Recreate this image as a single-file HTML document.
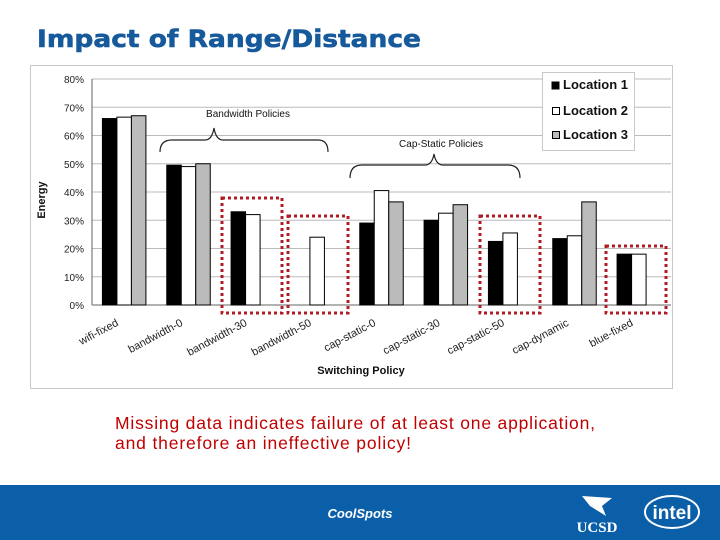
<!DOCTYPE html>
<html><head><meta charset="utf-8"><style>
body{margin:0;width:720px;height:540px;overflow:hidden;background:#fff;font-family:"Liberation Sans",sans-serif}
svg{position:absolute;left:0;top:0}
</style></head><body>
<svg id="s" width="720" height="540" xmlns="http://www.w3.org/2000/svg">
<text x="37" y="47" font-family="DejaVu Sans" font-weight="bold" font-size="24" fill="#175a9c" stroke="#175a9c" stroke-width="0.6" textLength="384" lengthAdjust="spacingAndGlyphs">Impact of Range/Distance</text>
<rect x="30.5" y="65.5" width="642" height="323" fill="#fff" stroke="#c8c8c8"/>
<g id="grid"></g>
<g id="bars"></g>
<g id="axes"></g>
<text x="45" y="200" transform="rotate(-90 45 200)" text-anchor="middle" font-size="11" font-weight="bold" fill="#111">Energy</text>
<text x="361" y="374" text-anchor="middle" font-size="11" font-weight="bold" fill="#111">Switching Policy</text>
<text x="248" y="117" text-anchor="middle" font-size="10" fill="#111">Bandwidth Policies</text>
<path d="M160,152 Q160,140 172,140 L205,140 Q212,140 214,128 Q216,140 223,140 L318,140 Q328,140 328,152" fill="none" stroke="#222" stroke-width="1.2"/>
<text x="441" y="147" text-anchor="middle" font-size="10" fill="#111">Cap-Static Policies</text>
<path d="M350,178 Q350,165 362,165 L425,165 Q432,165 434,154 Q436,165 443,165 L508,165 Q520,165 520,178" fill="none" stroke="#222" stroke-width="1.2"/>
<g>
<rect x="542.5" y="72.5" width="92" height="78" fill="#fff" stroke="#c8c8c8"/>
<rect x="552" y="82" width="7" height="7" fill="#000" stroke="#000"/><text x="563" y="89" font-size="13" font-weight="bold" fill="#111">Location 1</text>
<rect x="552.5" y="107.5" width="7" height="7" fill="#fff" stroke="#000"/><text x="563" y="115" font-size="13" font-weight="bold" fill="#111">Location 2</text>
<rect x="552.5" y="131.5" width="7" height="7" fill="#bbb" stroke="#000"/><text x="563" y="139" font-size="13" font-weight="bold" fill="#111">Location 3</text>
</g>
<g fill="none" stroke="#b01c24" stroke-width="3" stroke-dasharray="3,3">
<rect x="222" y="198" width="60" height="115"/>
<rect x="288" y="216" width="60" height="97"/>
<rect x="480" y="216" width="60" height="97"/>
<rect x="606" y="246" width="60" height="67"/>
</g>
<text x="115" y="429" font-size="17.5" fill="#c00000" textLength="480" lengthAdjust="spacing">Missing data indicates failure of at least one application,</text>
<text x="115" y="449" font-size="17.5" fill="#c00000" textLength="296" lengthAdjust="spacing">and therefore an ineffective policy!</text>
<rect x="0" y="485" width="720" height="55" fill="#0a5fa8"/>
<text x="360" y="518" text-anchor="middle" font-size="13" font-weight="bold" font-style="italic" fill="#fff">CoolSpots</text>
<text x="597" y="532" text-anchor="middle" font-family="Liberation Serif" font-size="15" font-weight="bold" fill="#fff">UCSD</text>
<path d="M582,496 L612,498 L602,506 L606,516 L590,506 Z" fill="#fff"/>
<ellipse cx="672" cy="512" rx="27" ry="16" fill="none" stroke="#fff" stroke-width="2"/>
<text x="672" y="519" text-anchor="middle" font-size="19" font-weight="bold" fill="#fff">intel</text>
</svg>
<script>
const categories=["wifi-fixed","bandwidth-0","bandwidth-30","bandwidth-50","cap-static-0","cap-static-30","cap-static-50","cap-dynamic","blue-fixed"];
const location1=[66,49.5,33,null,29,30,22.5,23.5,18];
const location2=[66.5,49,32,24,40.5,32.5,25.5,24.5,18];
const location3=[67,50,null,null,36.5,35.5,null,36.5,null];
const yTicks=[0,10,20,30,40,50,60,70,80];
const NS="http://www.w3.org/2000/svg";
const X0=92,X1=671,Y0=305,Y1=79;
const slot=(X1-X0)/categories.length;
const y=v=>Y0-(v/80)*(Y0-Y1);
const xc=i=>X0+slot*(i+0.5);
function mk(t,a,p){const e=document.createElementNS(NS,t);for(const k in a)e.setAttribute(k,a[k]);p.appendChild(e);return e;}
const grid=document.getElementById('grid'),bars=document.getElementById('bars'),axes=document.getElementById('axes');
yTicks.forEach(t=>{
 const l=mk('line',{x1:X0,x2:X1,y1:y(t),y2:y(t),stroke:t===0?'#666':'#bbb'},grid);
 
 
 const tx=mk('text',{x:X0-8,y:y(t)+4,'text-anchor':'end','font-size':10,fill:'#222'},axes);
 tx.textContent=t+'%';
 
 
});
mk('line',{x1:X0,x2:X0,y1:Y1,y2:Y0,stroke:'#666'},axes);
const series=[location1,location2,location3],fills=['#000','#fff','#bbb'];
const bw=14.5;
categories.forEach((c,i)=>{
 series.forEach((s,j)=>{
  const v=s[i];if(v==null)return;
  const r=mk('rect',{x:xc(i)-1.5*bw+j*bw,y:y(v),width:bw,height:Y0-y(v),fill:fills[j],stroke:'#000','stroke-width':1},bars);
  
  
 });
 const tx=xc(i)-5,ty=Y0+20;
 const t=mk('text',{x:tx,y:ty,'text-anchor':'end','font-size':11,fill:'#222',transform:`rotate(-28 ${tx} ${ty})`},axes);
 t.textContent=c;
 
 
});
</script>
</body></html>
